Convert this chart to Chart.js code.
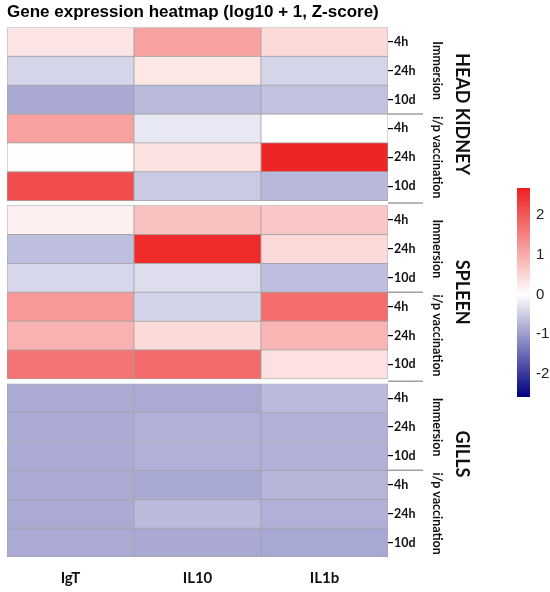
<!DOCTYPE html>
<html>
<head>
<meta charset="utf-8">
<title>Gene expression heatmap</title>
<script src="https://cdn.jsdelivr.net/npm/chart.js@4.4.1/dist/chart.umd.min.js"></script>
<style>
  html, body { margin: 0; padding: 0; background: #fff; }
  #wrap { position: relative; width: 550px; height: 592px; }
  #heatBox { position: absolute; left: 0; top: 0; width: 550px; height: 592px; }
  #scaleBox { position: absolute; left: 517px; top: 173px; width: 33px; height: 239px; }
</style>
</head>
<body>
<div id="wrap">
  <div id="heatBox"><canvas id="heat"></canvas></div>
  <div id="scaleBox"><canvas id="scale"></canvas></div>
</div>
<script>
// categorias
const genes = ["IgT", "IL10", "IL1b"];
const tissues = ["HEAD KIDNEY", "SPLEEN", "GILLS"];
const routes = ["Immersion", "i/p vaccination"];
const times = ["4h", "24h", "10d"];

// Z-score por fila: HK imm 4h/24h/10d, HK i/p 4h/24h/10d, luego spleen, luego gills
const igt  = [0.32, -0.42, -0.87, 1.13, 0.04, 2.14,
              0.18, -0.66, -0.40, 1.23, 0.94, 1.67,
              -0.86, -0.86, -0.86, -0.86, -0.86, -0.86];
const il10 = [1.13, 0.30, -0.70, -0.23, 0.35, -0.54,
              0.75, 2.55, -0.34, -0.44, 0.44, 1.80,
              -0.86, -0.80, -0.80, -0.88, -0.70, -0.87];
const il1b = [0.44, -0.42, -0.62, 0.00, 2.62, -0.72,
              0.68, 0.44, -0.66, 1.75, 0.90, 0.37,
              -0.70, -0.80, -0.80, -0.75, -0.80, -0.88];

// escala de color
const scaleMin = -2.58;
const scaleMax = 2.68;
const scaleTicks = [-2, -1, 0, 1, 2];

const series = [igt, il10, il1b];
const lowCol = [0, 0, 128];
const midCol = [255, 255, 255];
const highCol = [238, 32, 32];

function colorFor(v) {
  let t, c;
  if (v >= 0) { t = Math.min(v / scaleMax, 1); c = highCol; }
  else { t = Math.min(v / scaleMin, 1); c = lowCol; }
  const mix = midCol.map((m, k) => Math.round(m + (c[k] - m) * t));
  return "rgb(" + mix.join(",") + ")";
}

// filas y huecos entre tejidos
const GAP = 0.17;
const perRoute = times.length;
const perTissue = routes.length * perRoute;
const nRows = tissues.length * perTissue;
const yMax = nRows + (tissues.length - 1) * GAP;
function rowStart(i) { return i + Math.floor(i / perTissue) * GAP; }
const rowCenters = [];
for (let r = 0; r < nRows; r++) rowCenters.push(rowStart(r) + 0.5);

const datasets = [];
for (let r = 0; r < nRows; r++) {
  const y0 = rowStart(r);
  const t = Math.floor(r / perTissue);
  const g = Math.floor((r % perTissue) / perRoute);
  datasets.push({
    label: tissues[t] + " " + routes[g] + " " + times[r % perRoute],
    data: genes.map(() => [y0, y0 + 1]),
    backgroundColor: series.map((s) => colorFor(s[r])),
    borderColor: "#a4a4a4",
    borderWidth: 0.75,
    borderSkipped: false,
    grouped: false,
    barPercentage: 1,
    categoryPercentage: 1
  });
}

// etiquetas laterales (vias y tejidos) y separadores
const tissueShift = [0, 0, -0.57];
const sideLabels = {
  id: "sideLabels",
  afterDraw(chart) {
    const { ctx, chartArea } = chart;
    const y = chart.scales.y;
    const x0 = chartArea.right;
    ctx.save();
    ctx.strokeStyle = "#a0a0a0";
    ctx.lineWidth = 1.5;
    for (let t = 0; t < tissues.length; t++) {
      const lines = [rowStart(t * perTissue + perRoute)];
      if (t < tissues.length - 1) lines.push(rowStart(t * perTissue + perTissue - 1) + 1 + GAP / 2);
      lines.forEach((v) => {
        const py = y.getPixelForValue(v);
        ctx.beginPath();
        ctx.moveTo(x0, py);
        ctx.lineTo(x0 + 35, py);
        ctx.stroke();
      });
    }
    ctx.fillStyle = "#111";
    ctx.textAlign = "center";
    ctx.textBaseline = "middle";
    for (let t = 0; t < tissues.length; t++) {
      for (let g = 0; g < routes.length; g++) {
        const py = y.getPixelForValue(rowStart(t * perTissue + g * perRoute) + perRoute / 2);
        ctx.save();
        ctx.translate(x0 + 49, py);
        ctx.rotate(Math.PI / 2);
        ctx.font = "bold 12.5px Lato";
        ctx.fillText(routes[g], 0, 0);
        ctx.restore();
      }
      const pt = y.getPixelForValue(rowStart(t * perTissue) + perTissue / 2 + tissueShift[t]);
      ctx.save();
      ctx.translate(x0 + 74, pt);
      ctx.rotate(Math.PI / 2);
      ctx.font = "bold 18px Lato";
      ctx.fillText(tissues[t], 0, 0);
      ctx.restore();
    }
    ctx.restore();
  }
};

new Chart(document.getElementById("heat"), {
  type: "bar",
  data: { labels: genes, datasets: datasets },
  options: {
    responsive: true,
    maintainAspectRatio: false,
    animation: false,
    layout: { padding: { left: 7, top: 0, right: 0, bottom: 0 } },
    plugins: {
      legend: { display: false },
      tooltip: { enabled: false },
      title: {
        display: true,
        text: "Gene expression heatmap (log10 + 1, Z-score)",
        align: "start",
        color: "#000",
        font: { family: "Liberation Sans", size: 17, weight: "bold" },
        padding: { top: 2, bottom: 5 }
      }
    },
    scales: {
      x: {
        type: "category",
        grid: { display: false, drawTicks: false },
        border: { display: false },
        ticks: { color: "#111", padding: 12, font: { family: "Lato", size: 15, weight: "bold" } },
        afterFit: (s) => { s.height = 35; }
      },
      y: {
        type: "linear",
        position: "right",
        reverse: true,
        min: 0,
        max: yMax,
        grid: { drawOnChartArea: false, drawTicks: true, tickLength: 5, color: "#000", lineWidth: 1.2 },
        border: { display: false },
        afterBuildTicks: (s) => { s.ticks = rowCenters.map((v) => ({ value: v })); },
        ticks: {
          autoSkip: false,
          padding: 1,
          color: "#111",
          font: { family: "Lato", size: 12.5, weight: "bold" },
          callback: (v, i) => times[i % perRoute]
        },
        afterFit: (s) => { s.width = 162; }
      }
    }
  },
  plugins: [sideLabels]
});

// barra de color
new Chart(document.getElementById("scale"), {
  type: "bar",
  data: {
    labels: [""],
    datasets: [{
      data: [[scaleMin, scaleMax]],
      backgroundColor: (context) => {
        const chart = context.chart;
        const area = chart.chartArea;
        if (!area) return null;
        const y = chart.scales.y;
        const zero = (y.getPixelForValue(0) - area.bottom) / (area.top - area.bottom);
        const grad = chart.ctx.createLinearGradient(0, area.bottom, 0, area.top);
        grad.addColorStop(0, "rgb(" + lowCol.join(",") + ")");
        grad.addColorStop(zero, "rgb(" + midCol.join(",") + ")");
        grad.addColorStop(1, "rgb(" + highCol.join(",") + ")");
        return grad;
      },
      borderWidth: 0,
      barPercentage: 1,
      categoryPercentage: 1
    }]
  },
  options: {
    responsive: true,
    maintainAspectRatio: false,
    animation: false,
    layout: { padding: { top: 0, bottom: 1 } },
    plugins: { legend: { display: false }, tooltip: { enabled: false } },
    scales: {
      x: { display: false },
      y: {
        position: "right",
        min: scaleMin,
        max: scaleMax,
        afterBuildTicks: (s) => { s.ticks = scaleTicks.map((v) => ({ value: v })); },
        grid: { display: false, drawTicks: false },
        border: { display: false },
        ticks: { padding: 6, color: "#222", font: { family: "Liberation Sans", size: 15 } },
        afterFit: (s) => { s.width = 20; }
      }
    }
  }
});
</script>
</body>
</html>
